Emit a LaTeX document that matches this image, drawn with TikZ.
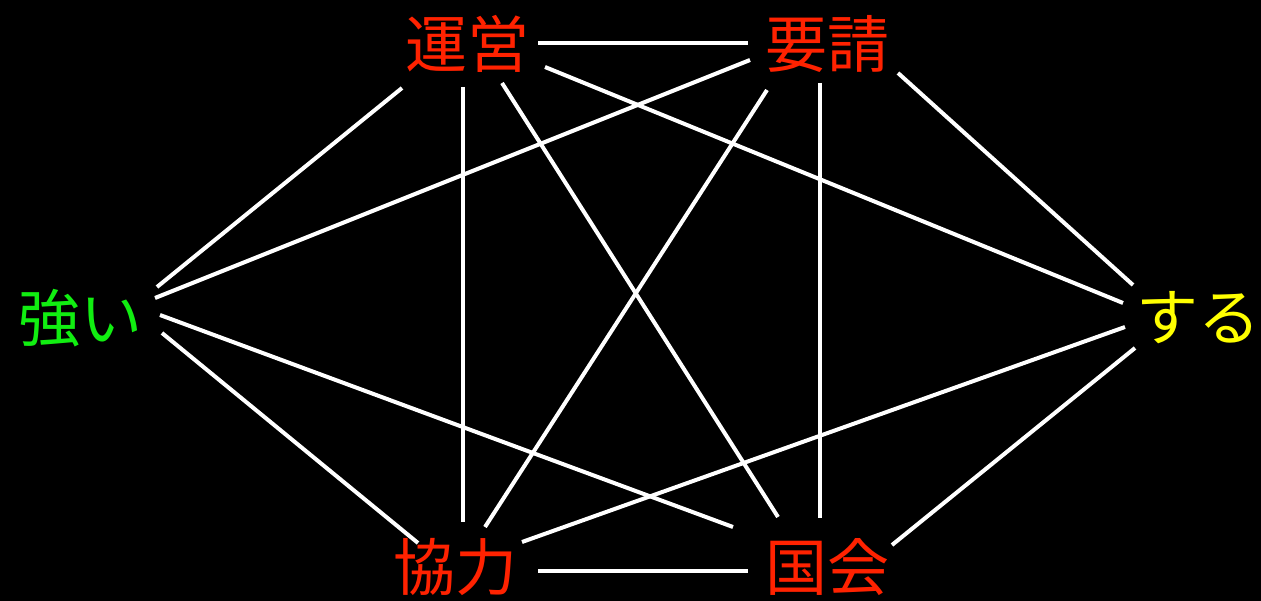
\documentclass[tikz,border=0pt]{standalone}
\usepackage{fontspec}
\usetikzlibrary{calc}
\newfontfamily\jpfont{Noto Sans CJK JP}
\definecolor{wordred}{HTML}{FF2200}
\definecolor{wordgreen}{HTML}{11EE11}
\definecolor{wordyellow}{HTML}{FFFF00}
\tikzset{
  word/.style={font=\jpfont\fontsize{62}{62}\selectfont, inner sep=0pt},
  link/.style={draw=white, line width=4pt}
}
\begin{document}
\begin{tikzpicture}[x=1pt,y=-1pt]
  \fill[black] (0,0) rectangle (1261,601);
  \useasboundingbox (0,0) rectangle (1261,601);
  \node[word,text=wordred] (unei) at (467,44) {運営};
  \node[word,text=wordred] (yousei) at (827,44) {要請};
  \node[word,text=wordgreen] (tsuyoi) at (81,318) {強い};
  \node[word,text=wordyellow] (suru) at (1198,318) {する};
  \node[word,text=wordred] (kyouryoku) at (455,567) {協力};
  \node[word,text=wordred] (kokkai) at (827,567) {国会};
  % offsets in pixels from the node centres
  \foreach \a/\ax/\ay/\b/\bx/\by in {
      unei/71/-1/yousei/-79/-1, kyouryoku/83/4/kokkai/-79/4,
      unei/-65/44/tsuyoi/76/-31, unei/-4/43/kyouryoku/8/-45,
      unei/35/39/kokkai/-49/-50, unei/78/23/suru/-75/-15,
      yousei/-77/16/tsuyoi/74/-20, yousei/-60/46/kyouryoku/30/-40,
      yousei/-7/39/kokkai/-7/-49, yousei/71/29/suru/-65/-33,
      tsuyoi/81/15/kyouryoku/-37/-24, tsuyoi/79/-3/kokkai/-94/-40,
      suru/-73/9/kyouryoku/67/-25, suru/-63/30/kokkai/65/-22}
    \draw[link] ($(\a)+(\ax,\ay)$) -- ($(\b)+(\bx,\by)$);
\end{tikzpicture}
\end{document}
